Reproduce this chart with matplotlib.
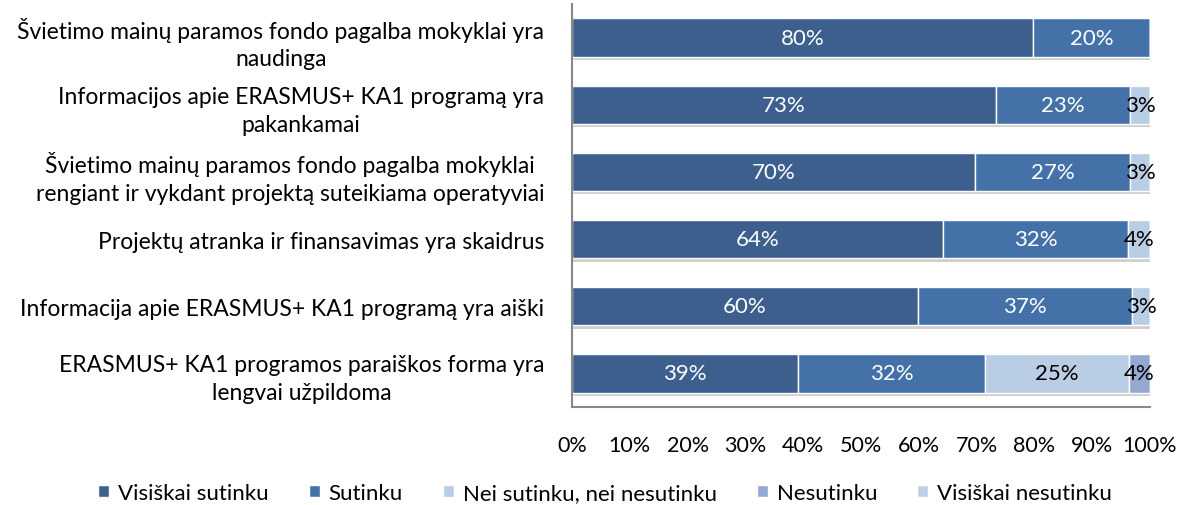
import numpy as np
import matplotlib.pyplot as plt

plt.rcParams['font.family'] = ['Lato', 'DejaVu Sans']

categories = [
    'Švietimo mainų paramos fondo pagalba mokyklai yra\nnaudinga',
    'Informacijos apie ERASMUS+ KA1 programą yra\npakankamai',
    'Švietimo mainų paramos fondo pagalba mokyklai\nrengiant ir vykdant projektą suteikiama operatyviai',
    'Projektų atranka ir finansavimas yra skaidrus',
    'Informacija apie ERASMUS+ KA1 programą yra aiški',
    'ERASMUS+ KA1 programos paraiškos forma yra\nlengvai užpildoma',
]
series = ['Visiškai sutinku', 'Sutinku', 'Nei sutinku, nei nesutinku',
          'Nesutinku', 'Visiškai nesutinku']
visiskai_sutinku = [79.8, 73.3, 69.7, 64.2, 59.9, 39.1]
sutinku = [20.2, 23.3, 26.9, 32.0, 37.0, 32.4]
nei = [0, 3.4, 3.4, 3.8, 3.1, 24.9]
nesutinku = [0, 0, 0, 0, 0, 3.6]
visiskai_nesutinku = [0, 0, 0, 0, 0, 0]

colors = ['#3C5F8E', '#4472A8', '#B9CDE5', '#93A9D2', '#BFCFE6']
text_colors = ['white', 'white', 'black', 'black', 'black']

fig = plt.figure(figsize=(11.86, 5.06), dpi=100)
ax = fig.add_axes([572 / 1186, 1 - 408 / 506, (1150 - 572) / 1186, (408 - 5) / 506])

y = np.arange(len(categories))
data = [visiskai_sutinku, sutinku, nei, nesutinku, visiskai_nesutinku]
totals = np.sum(np.array(data, dtype=float), axis=0)

# soft shadow under the bars
ax.barh(y + 0.05, totals, height=0.57, color='#cfcfcf', zorder=1)

left = np.zeros(len(categories))
for vals, name, c, tc in zip(data, series, colors, text_colors):
    vals = np.array(vals, dtype=float)
    ax.barh(y, vals, left=left, height=0.57, color=c, label=name,
            edgecolor='white', linewidth=1, zorder=2)
    for yi, l, v in zip(y, left, vals):
        if v > 0:
            ax.text(l + v / 2, yi, f'{round(v)}%', ha='center', va='center',
                    color=tc, fontsize=16, zorder=3)
    left += vals

ax.set_xlim(0, 100)
ax.set_ylim(len(categories) - 0.5, -0.5)
ax.set_yticks(y)
ax.set_yticklabels(categories, fontsize=16.5, multialignment='center',
                   linespacing=1.4)
ax.set_xticks(np.arange(0, 101, 10))
ax.set_xticklabels([f'{v}%' for v in range(0, 101, 10)], fontsize=15.5)
ax.tick_params(axis='y', length=0, pad=20)
ax.tick_params(axis='x', length=0, pad=20)
for s in ['top', 'right']:
    ax.spines[s].set_visible(False)
for s in ['left', 'bottom']:
    ax.spines[s].set_color('#888888')
    ax.spines[s].set_linewidth(1.5)

fig.legend(loc='center', bbox_to_anchor=(605 / 1186, 1 - 494 / 506), ncol=5,
           frameon=False, fontsize=16, handlelength=0.5, handleheight=0.5,
           handletextpad=0.4, columnspacing=1.8)

plt.savefig('out.png', dpi=100)
